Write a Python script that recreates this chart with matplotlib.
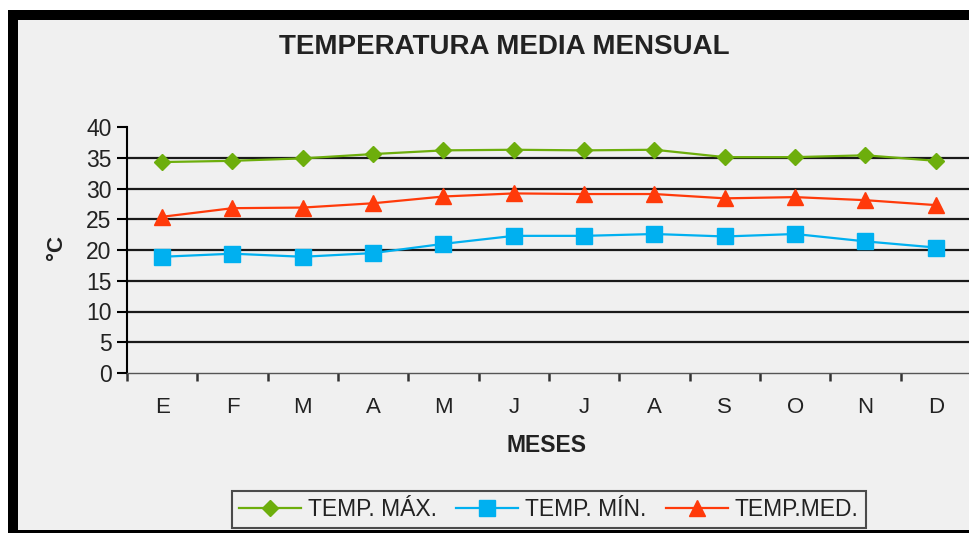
import matplotlib
matplotlib.use("Agg")
import matplotlib.pyplot as plt
from matplotlib.patches import Rectangle
import numpy as np

months = ["E", "F", "M", "A", "M", "J", "J", "A", "S", "O", "N", "D"]
temp_max = [34.3, 34.5, 34.9, 35.6, 36.2, 36.3, 36.2, 36.3, 35.1, 35.1, 35.4, 34.5]
temp_min = [18.9, 19.4, 18.9, 19.5, 21.0, 22.3, 22.3, 22.6, 22.2, 22.6, 21.4, 20.4]
temp_med = [25.4, 26.8, 26.9, 27.6, 28.7, 29.2, 29.1, 29.1, 28.4, 28.6, 28.1, 27.3]
series_labels = ["TEMP. MÁX.", "TEMP. MÍN.", "TEMP.MED."]
yticks = [0, 5, 10, 15, 20, 25, 30, 35, 40]

plt.rcParams['font.family'] = ['Liberation Sans', 'DejaVu Sans']

W, H = 970, 533
fig = plt.figure(figsize=(W / 100, H / 100), dpi=100)
fig.patch.set_facecolor("white")

# frame
fig.patches.append(Rectangle((8 / W, 0), 1.0, 1 - 10 / H, transform=fig.transFigure,
                             facecolor="black", edgecolor="none", zorder=-10))
fig.patches.append(Rectangle((18 / W, 3 / H), 1.0, 1 - 23 / H, transform=fig.transFigure,
                             facecolor="#F0F0F0", edgecolor="none", zorder=-9))

left, right, top, bottom = 127, 971, 127, 373
ax = fig.add_axes([left / W, 1 - bottom / H, (right - left) / W, (bottom - top) / H])
ax.set_facecolor("none")

x = np.arange(len(months))

for v in yticks[1:-1]:
    ax.axhline(v, color="#1a1a1a", lw=1.6, zorder=1)

green, blue, red = "#6DAE0C", "#00B0F0", "#FF3A0A"
ax.plot(x, temp_max, color=green, lw=1.6, marker="D", ms=8.5, mfc=green, mec=green,
        label=series_labels[0], zorder=3)
ax.plot(x, temp_min, color=blue, lw=1.6, marker="s", ms=11, mfc=blue, mec=blue,
        label=series_labels[1], zorder=3)
ax.plot(x, temp_med, color=red, lw=1.6, marker="^", ms=11, mfc=red, mec=red,
        label=series_labels[2], zorder=3)

ax.set_xlim(-0.5, len(months) - 0.5)
ax.set_ylim(0, 40)
ax.set_yticks(yticks)
ax.set_xticks(x)
ax.set_xticklabels(months)
ax.set_xticks(np.arange(-0.5, len(months), 1), minor=True)

for s in ["top", "right"]:
    ax.spines[s].set_visible(False)
ax.spines["left"].set_color("black")
ax.spines["left"].set_linewidth(1.5)
ax.spines["bottom"].set_color("#555555")
ax.spines["bottom"].set_linewidth(1.0)

ax.tick_params(axis="y", direction="out", length=7, width=1.5, color="black",
               labelsize=16.5, pad=4, labelcolor="#222222")
ax.tick_params(axis="x", which="major", length=0, pad=17, labelsize=16, labelcolor="#222222")
ax.tick_params(axis="x", which="minor", direction="out", length=6, width=1.8, color="#333333")

fig.text(504 / W, 1 - 47.5 / H, "TEMPERATURA MEDIA MENSUAL", ha="center", va="center",
         fontsize=20, fontweight="bold", color="#222222")
fig.text(547 / W, 1 - 446 / H, "MESES", ha="center", va="center",
         fontsize=16.5, fontweight="bold", color="#222222")
fig.text(57 / W, 1 - 247 / H, "°C", ha="center", va="center", rotation=90,
         fontsize=16, fontweight="bold", color="#222222")

leg = fig.legend(loc="center", bbox_to_anchor=(549 / W, 1 - 509.5 / H), ncol=3,
                 fontsize=16.5, frameon=True, fancybox=False, handlelength=2.7,
                 handletextpad=0.3, columnspacing=0.85, borderpad=0.3, borderaxespad=0)
leg.get_frame().set_edgecolor("#222222")
leg.get_frame().set_linewidth(1.5)
leg.get_frame().set_facecolor("#F0F0F0")
for t in leg.get_texts():
    t.set_color("#222222")

fig.savefig("out.png", dpi=100)
